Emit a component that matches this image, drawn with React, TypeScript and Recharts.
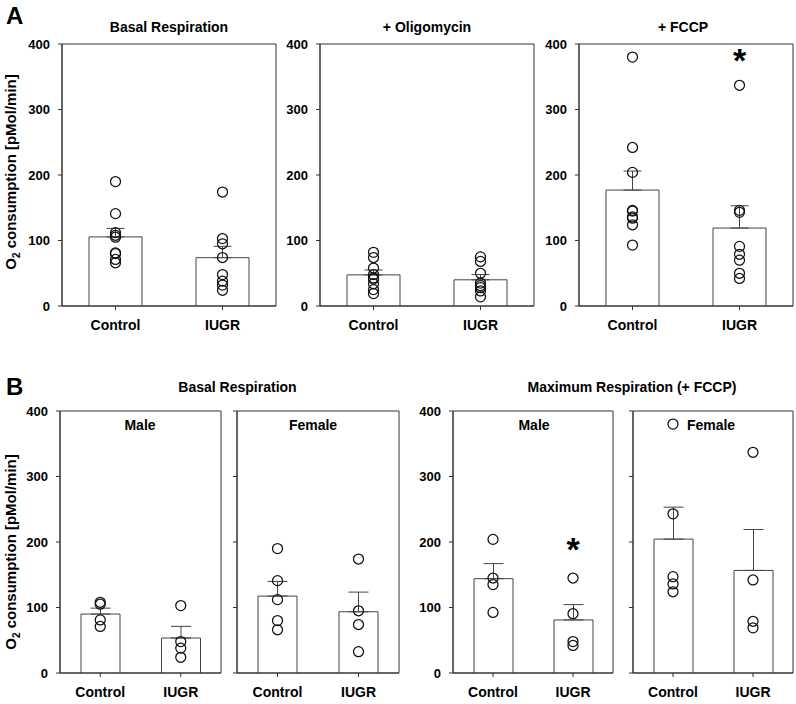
import React from 'react';
import { ComposedChart, Bar, Scatter, XAxis, YAxis, ErrorBar, ReferenceArea, ReferenceDot } from 'recharts';

const groups = ['Control', 'IUGR'];
const yTicks = [0, 100, 200, 300, 400];

// Panel A
const basalCtrlPts = [190, 141, 112, 108, 105, 81, 80, 71, 66];
const basalIugrPts = [174, 103, 95, 74, 48, 38, 32, 24];
const basalMean = [105.5, 73.8];
const basalSem = [13, 17.3];

const oligoCtrlPts = [82, 74, 58, 48, 43, 41, 34, 25, 19];
const oligoIugrPts = [75, 68, 50, 35, 31, 28, 23, 14];
const oligoMean = [47.5, 40];
const oligoSem = [7.5, 8];

const fccpCtrlPts = [380, 242, 204, 146, 145, 136, 134, 124, 93];
const fccpIugrPts = [337, 146, 143, 91, 79, 70, 50, 42];
const fccpMean = [177, 119];
const fccpSem = [29, 34];

// Panel B
const basalMaleCtrlPts = [108, 105, 81, 71];
const basalMaleIugrPts = [103, 48, 38, 24];
const basalMaleMean = [90, 53.4];
const basalMaleSem = [9, 17.8];

const basalFemaleCtrlPts = [190, 141, 112, 80, 66];
const basalFemaleIugrPts = [174, 95, 74, 32.5];
const basalFemaleMean = [117.4, 93.5];
const basalFemaleSem = [22.4, 30];

const maxMaleCtrlPts = [204, 145, 135, 92.5];
const maxMaleIugrPts = [145, 90.5, 48, 42];
const maxMaleMean = [144, 81];
const maxMaleSem = [23, 23.4];

const maxFemaleCtrlPts = [380, 243, 147, 136, 124];
const maxFemaleIugrPts = [337, 142, 79, 69];
const maxFemaleMean = [204.4, 156.6];
const maxFemaleSem = [48.8, 62.5];

const FONT = '"Liberation Sans", Arial, Helvetica, sans-serif';

type Spec = {
  left: number; top: number; width: number; height: number;
  mean: number[]; sem: number[]; ctrl: number[]; iugr: number[];
  showY: boolean; barSize: number; capHalf: number; star?: number;
};

const panels: Spec[] = [
  { left: 62, top: 44, width: 214, height: 262, mean: basalMean, sem: basalSem, ctrl: basalCtrlPts, iugr: basalIugrPts, showY: true, barSize: 53, capHalf: 9 },
  { left: 320, top: 44, width: 214, height: 262, mean: oligoMean, sem: oligoSem, ctrl: oligoCtrlPts, iugr: oligoIugrPts, showY: true, barSize: 53, capHalf: 9 },
  { left: 579, top: 44, width: 214, height: 262, mean: fccpMean, sem: fccpSem, ctrl: fccpCtrlPts, iugr: fccpIugrPts, showY: true, barSize: 53, capHalf: 9, star: 375 },
  { left: 60, top: 411, width: 161, height: 262, mean: basalMaleMean, sem: basalMaleSem, ctrl: basalMaleCtrlPts, iugr: basalMaleIugrPts, showY: true, barSize: 39, capHalf: 10 },
  { left: 237, top: 411, width: 162, height: 262, mean: basalFemaleMean, sem: basalFemaleSem, ctrl: basalFemaleCtrlPts, iugr: basalFemaleIugrPts, showY: false, barSize: 39, capHalf: 10 },
  { left: 453, top: 411, width: 160, height: 262, mean: maxMaleMean, sem: maxMaleSem, ctrl: maxMaleCtrlPts, iugr: maxMaleIugrPts, showY: true, barSize: 39, capHalf: 10, star: 189 },
  { left: 633, top: 411, width: 160, height: 262, mean: maxFemaleMean, sem: maxFemaleSem, ctrl: maxFemaleCtrlPts, iugr: maxFemaleIugrPts, showY: false, barSize: 39, capHalf: 10 },
];

const Circle = (props: any) => {
  const { cx, cy } = props;
  if (cx == null || cy == null) return null;
  return <circle cx={cx} cy={cy} r={5} fill="none" stroke="#111" strokeWidth={1.25} />;
};

function Panel({ p }: { p: Spec }) {
  const YW = 50, MT = 6, MR = 4, XH = 36;
  const rows = groups.map((g, i) => ({ x: i + 0.5, name: g, mean: p.mean[i], err: [0, p.sem[i]] }));
  const pts = [
    ...p.ctrl.map((v) => ({ x: 0.5, y: v })),
    ...p.iugr.map((v) => ({ x: 1.5, y: v })),
  ];
  const tickStyle = { fill: '#000', fontSize: 13, fontWeight: 700, fontFamily: FONT };
  return (
    <div style={{ position: 'absolute', left: p.left - YW, top: p.top - MT }}>
      <ComposedChart
        width={YW + p.width + MR}
        height={MT + p.height + XH}
        data={rows}
        margin={{ top: MT, right: MR, bottom: 0, left: 0 }}
      >
        <XAxis
          type="number"
          dataKey="x"
          domain={[0, 2]}
          ticks={[0.5, 1.5]}
          interval={0}
          allowDataOverflow
          tickFormatter={(v: number) => groups[Math.floor(v)]}
          height={XH}
          tickSize={4}
          tickMargin={10}
          stroke="#333"
          tick={{ fill: '#000', fontSize: 14, fontWeight: 700, fontFamily: FONT }}
        />
        <YAxis
          type="number"
          domain={[0, 400]}
          ticks={yTicks}
          interval={0}
          allowDataOverflow
          width={YW}
          tickSize={4}
          tickMargin={8}
          stroke="#333"
          tick={tickStyle}
          tickFormatter={(v: number) => (p.showY ? String(v) : '')}
        />
        <ReferenceArea x1={0} x2={2} y1={0} y2={400} fill="none" fillOpacity={0} stroke="#333" strokeWidth={1} />
        <Bar dataKey="mean" barSize={p.barSize} fill="#fff" stroke="#444" strokeWidth={1} isAnimationActive={false}>
          <ErrorBar dataKey="err" width={p.capHalf} stroke="#444" strokeWidth={1} direction="y" />
        </Bar>
        <Scatter data={pts} dataKey="y" isAnimationActive={false} shape={Circle} />
        {p.star != null && (
          <ReferenceDot
            x={1.5}
            y={p.star}
            r={0}
            fill="none"
            stroke="none"
            label={{ value: '*', position: 'center', fontSize: 34, fontWeight: 700, fill: '#000', fontFamily: FONT }}
          />
        )}
      </ComposedChart>
    </div>
  );
}

const tStyle: React.CSSProperties = { fontFamily: FONT, fontWeight: 700 };

function YLabel({ x, y }: { x: number; y: number }) {
  return (
    <text transform={`translate(${x},${y}) rotate(-90)`} textAnchor="middle" fontSize={15} style={tStyle} fill="#000">
      <tspan>O</tspan>
      <tspan fontSize={10} dy={4}>2</tspan>
      <tspan dy={-4}> consumption [pMol/min]</tspan>
    </text>
  );
}

export default function App() {
  return (
    <div style={{ position: 'absolute', left: 0, top: 0, width: 796, height: 704, background: '#fff' }}>
      {panels.map((p, i) => (
        <Panel key={i} p={p} />
      ))}
      <svg width={796} height={704} style={{ position: 'absolute', left: 0, top: 0, pointerEvents: 'none' }}>
        <text x={6} y={24} fontSize={24} style={tStyle} fill="#000">A</text>
        <text x={6} y={395} fontSize={24} style={tStyle} fill="#000">B</text>
        <text x={169} y={32} fontSize={14} textAnchor="middle" style={tStyle} fill="#000">Basal Respiration</text>
        <text x={427} y={32} fontSize={14} textAnchor="middle" style={tStyle} fill="#000">+ Oligomycin</text>
        <text x={683} y={32} fontSize={14} textAnchor="middle" style={tStyle} fill="#000">+ FCCP</text>
        <text x={237.5} y={392} fontSize={14} textAnchor="middle" style={tStyle} fill="#000">Basal Respiration</text>
        <text x={632} y={392} fontSize={14} textAnchor="middle" style={tStyle} fill="#000">Maximum Respiration (+ FCCP)</text>
        <text x={140} y={429.5} fontSize={14} textAnchor="middle" style={tStyle} fill="#000">Male</text>
        <text x={313} y={429.5} fontSize={14} textAnchor="middle" style={tStyle} fill="#000">Female</text>
        <text x={534} y={429.5} fontSize={14} textAnchor="middle" style={tStyle} fill="#000">Male</text>
        <text x={711} y={429.5} fontSize={14} textAnchor="middle" style={tStyle} fill="#000">Female</text>
        <YLabel x={16} y={172} />
        <YLabel x={16} y={552} />
      </svg>
    </div>
  );
}
